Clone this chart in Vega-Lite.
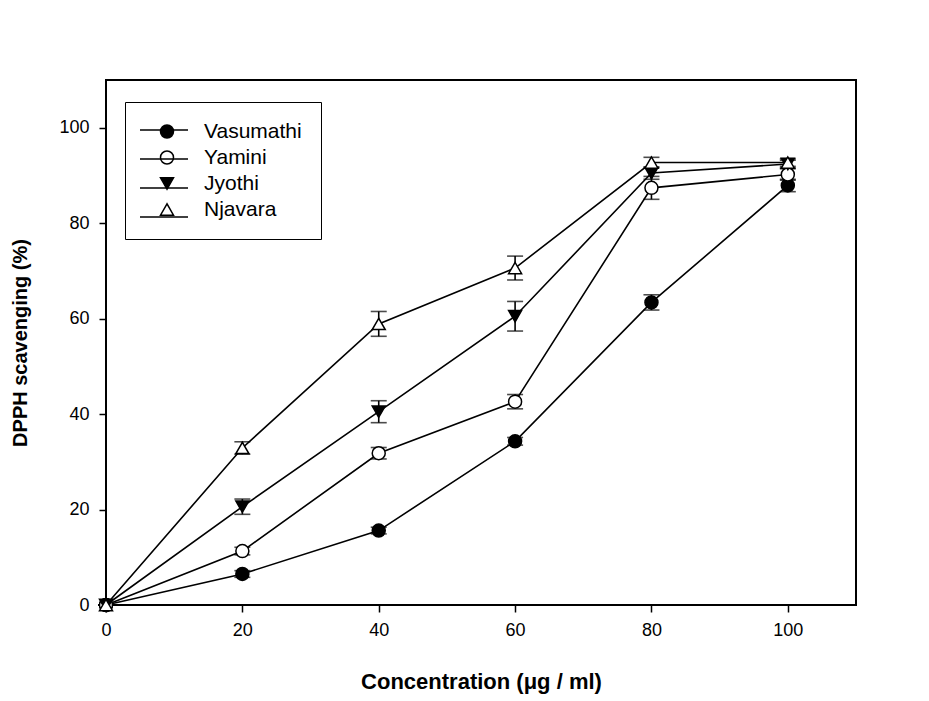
{
  "$schema": "https://vega.github.io/schema/vega-lite/v6.json",
  "width": 750,
  "height": 525,
  "autosize": {"type": "none"},
  "padding": {"left": 106, "top": 80, "right": 73, "bottom": 96},
  "background": "white",
  "config": {
    "font": "Liberation Sans",
    "view": {"stroke": "black", "strokeWidth": 2},
    "axis": {"grid": false, "domain": false, "tickColor": "black", "tickWidth": 1.5, "tickSize": 7,
      "labelColor": "black", "labelFont": "Liberation Sans", "labelFontSize": 18, "labelFlush": false,
      "titleColor": "black", "titleFont": "Liberation Sans", "titleFontSize": 20, "titleFontWeight": "bold"}
  },
  "data": {"values": [
    {"series": "Vasumathi", "conc": 0, "mean": 0, "err": 0},
    {"series": "Vasumathi", "conc": 20, "mean": 6.5, "err": 0.7},
    {"series": "Vasumathi", "conc": 40, "mean": 15.6, "err": 0.7},
    {"series": "Vasumathi", "conc": 60, "mean": 34.3, "err": 0.8},
    {"series": "Vasumathi", "conc": 80, "mean": 63.4, "err": 1.6},
    {"series": "Vasumathi", "conc": 100, "mean": 87.9, "err": 1.3},
    {"series": "Yamini", "conc": 0, "mean": 0, "err": 0},
    {"series": "Yamini", "conc": 20, "mean": 11.3, "err": 0.8},
    {"series": "Yamini", "conc": 40, "mean": 31.8, "err": 1.2},
    {"series": "Yamini", "conc": 60, "mean": 42.6, "err": 1.5},
    {"series": "Yamini", "conc": 80, "mean": 87.4, "err": 2.4},
    {"series": "Yamini", "conc": 100, "mean": 90.2, "err": 1.2},
    {"series": "Jyothi", "conc": 0, "mean": 0, "err": 0},
    {"series": "Jyothi", "conc": 20, "mean": 20.6, "err": 1.6},
    {"series": "Jyothi", "conc": 40, "mean": 40.5, "err": 2.3},
    {"series": "Jyothi", "conc": 60, "mean": 60.5, "err": 3.1},
    {"series": "Jyothi", "conc": 80, "mean": 90.5, "err": 1.3},
    {"series": "Jyothi", "conc": 100, "mean": 92.4, "err": 0.8},
    {"series": "Njavara", "conc": 0, "mean": 0, "err": 0},
    {"series": "Njavara", "conc": 20, "mean": 32.9, "err": 1.3},
    {"series": "Njavara", "conc": 40, "mean": 58.9, "err": 2.6},
    {"series": "Njavara", "conc": 60, "mean": 70.6, "err": 2.5},
    {"series": "Njavara", "conc": 80, "mean": 92.7, "err": 1.1},
    {"series": "Njavara", "conc": 100, "mean": 92.7, "err": 0.8}
  ]},
  "encoding": {
    "x": {"field": "conc", "type": "quantitative",
      "scale": {"domain": [0, 110], "nice": false, "zero": false},
      "axis": {"values": [0, 20, 40, 60, 80, 100], "title": "Concentration (μg / ml)", "titleFontSize": 22, "labelPadding": 9, "titleY": 83, "titleBaseline": "alphabetic"}},
    "y": {"field": "mean", "type": "quantitative",
      "scale": {"domain": [0, 110], "nice": false, "zero": false},
      "axis": {"values": [0, 20, 40, 60, 80, 100], "title": "DPPH scavenging (%)", "labelPadding": 10, "titleX": -86, "titleBaseline": "middle"}}
  },
  "layer": [
    {
      "mark": {"type": "line", "strokeWidth": 1.6},
      "encoding": {
        "order": {"field": "conc"},
        "color": {"field": "series", "type": "nominal",
          "scale": {"domain": ["Njavara", "Jyothi", "Yamini", "Vasumathi"], "range": ["black", "black", "black", "black"]},
          "legend": {
            "title": null, "orient": "none", "legendX": 33, "legendY": 25,
            "padding": 0,
            "symbolType": "stroke", "symbolSize": 2304, "symbolStrokeWidth": 1.6, "symbolStrokeColor": "black",
            "labelExpr": "''", "labelFontSize": 1, "labelColor": "transparent",
            "labelOffset": 0, "rowPadding": -1
          }}
      }
    },
    {
      "mark": {"type": "errorbar", "color": "black", "thickness": 1.6, "ticks": {"size": 16}},
      "encoding": {"yError": {"field": "err"}, "detail": {"field": "series"}}
    },
    {
      "mark": {"type": "point", "filled": true, "strokeWidth": 1.5, "size": 169, "opacity": 1},
      "encoding": {
        "shape": {"field": "series", "type": "nominal",
          "scale": {"domain": ["Vasumathi", "Yamini", "Jyothi", "Njavara"], "range": ["circle", "circle", "triangle-down", "triangle-up"]},
          "legend": {
            "title": null, "orient": "none", "legendX": 19, "legendY": 22,
            "padding": 19, "strokeColor": "black",
            "labelFont": "Liberation Sans", "labelFontSize": 21, "labelColor": "black",
            "symbolOffset": 12.5, "labelOffset": 26.5, "symbolSize": 169, "rowPadding": 4,
            "symbolStrokeWidth": 1.5
          }},
        "fill": {"field": "series", "type": "nominal",
          "scale": {"domain": ["Vasumathi", "Yamini", "Jyothi", "Njavara"], "range": ["black", "white", "black", "white"]},
          "legend": null},
        "stroke": {"field": "series", "type": "nominal",
          "scale": {"domain": ["Vasumathi", "Yamini", "Jyothi", "Njavara"], "range": ["black", "black", "black", "black"]},
          "legend": null}
      }
    }
  ],
  "resolve": {"scale": {"color": "independent"}}
}
